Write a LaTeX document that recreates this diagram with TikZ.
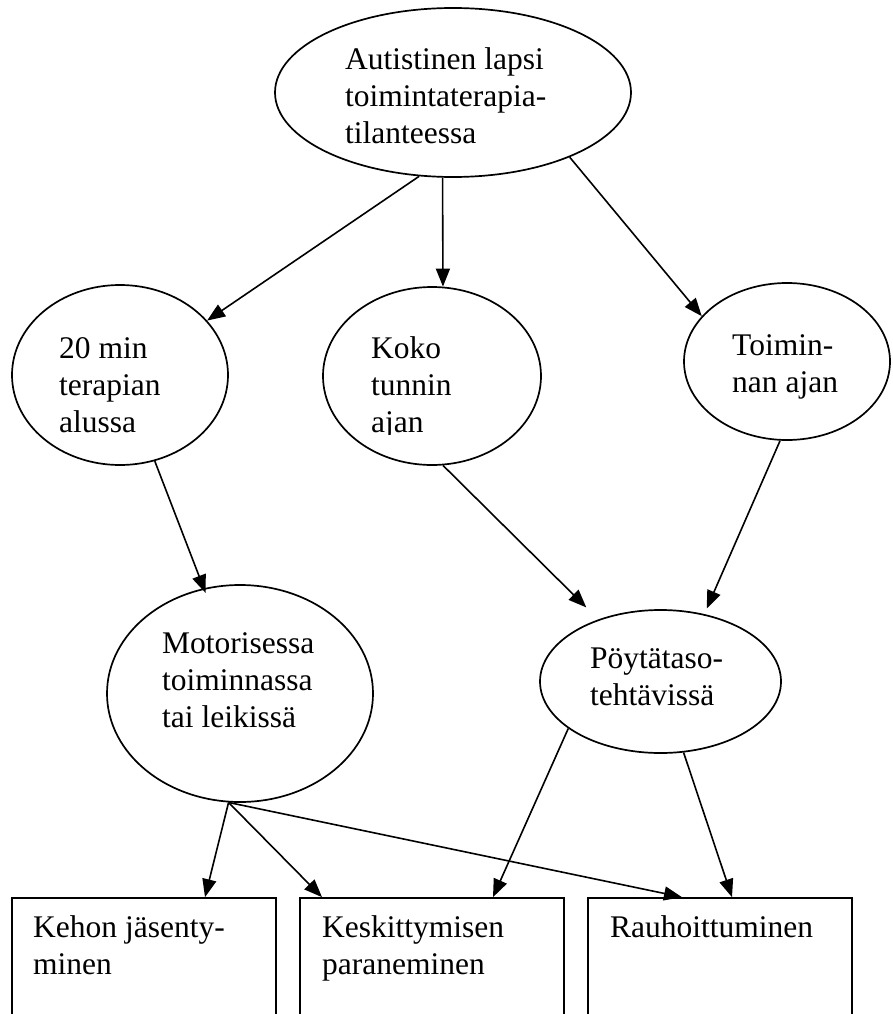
\documentclass[tikz,border=0pt]{standalone}
\usepackage{fontspec}
\setmainfont{Liberation Serif}
\usetikzlibrary{shapes.geometric,arrows.meta}
\tikzset{
  oval/.style={ellipse, draw, line width=1.7pt, inner sep=0pt},
  boxnode/.style={rectangle, draw, line width=1.7pt, inner sep=0pt, minimum width=264pt, minimum height=142pt},
  txt/.style={anchor=base west, inner sep=0pt, font=\fontsize{31.5}{37}\selectfont},
  arr/.style={line width=1.6pt, -{Triangle[length=18pt,width=14pt]}}
}
\newcommand{\lines}[1]{\begin{tabular}[t]{@{}l@{}}#1\end{tabular}}
\begin{document}
\begin{tikzpicture}[x=1pt,y=-1pt]
\useasboundingbox (0,0) rectangle (893,1014);
% ellipses
\node[oval, minimum width=356pt, minimum height=169pt] (top) at (453,92.5) {};
\node[oval, minimum width=216pt, minimum height=180pt] (n20) at (120,375) {};
\node[oval, minimum width=218pt, minimum height=178pt] (koko) at (432,376) {};
\node[oval, minimum width=206pt, minimum height=157pt] (toim) at (787,361.5) {};
\node[oval, minimum width=266pt, minimum height=217pt] (motor) at (240,693.5) {};
\node[oval, minimum width=241pt, minimum height=143pt] (poyt) at (660.5,681.5) {};
% boxes
\node[boxnode] (kehon) at (144,969) {};
\node[boxnode] (kesk) at (432,969) {};
\node[boxnode] (rauh) at (720,969) {};
% texts
\node[txt] (topt) at (345,70) {\lines{Autistinen lapsi\\toimintaterapia-\\tilanteessa}};
\node[txt] (n20t) at (59,358) {\lines{20 min\\terapian\\alussa}};
\begin{scope}
\clip (360,300) rectangle (500,434);
\node[txt] (kokot) at (371,358) {\lines{Koko\\tunnin\\ajan}};
\end{scope}
\node[txt] (toimt) at (732,355) {\lines{Toimin-\\nan ajan}};
\node[txt] (motort) at (162,653) {\lines{Motorisessa\\toiminnassa\\tai leikissä}};
\node[txt] (poytt) at (590,668) {\lines{Pöytätaso-\\tehtävissä}};
\node[txt] (kehont) at (33,937) {\lines{Kehon jäsenty-\\minen}};
\node[txt] (keskt) at (322,937) {\lines{Keskittymisen\\paraneminen}};
\node[txt] (rauht) at (610,937) {\lines{Rauhoittuminen}};
% connectors
\draw[arr] (top.248) -- (n20.32);
\draw[arr] (top.263) -- (koko.83);
\draw[arr] (top.331) -- (toim.152);
\draw[arr, shorten >=-5pt] (n20.292) -- (motor.109);
\draw[arr, shorten >=17pt] (koko.277) -- (poyt.135);
\draw[arr, shorten >=6pt] (toim.265) -- (poyt.57);
\draw[arr] (motor.264) -- ([xshift=61pt]kehon.north);
\draw[arr] (motor.264) -- ([xshift=-110pt]kesk.north);
\draw[arr] (motor.264) -- ([xshift=-38pt]rauh.north);
\draw[arr] (poyt.207) -- ([xshift=61pt]kesk.north);
\draw[arr] (poyt.288) -- ([xshift=12pt]rauh.north);
\end{tikzpicture}
\end{document}
